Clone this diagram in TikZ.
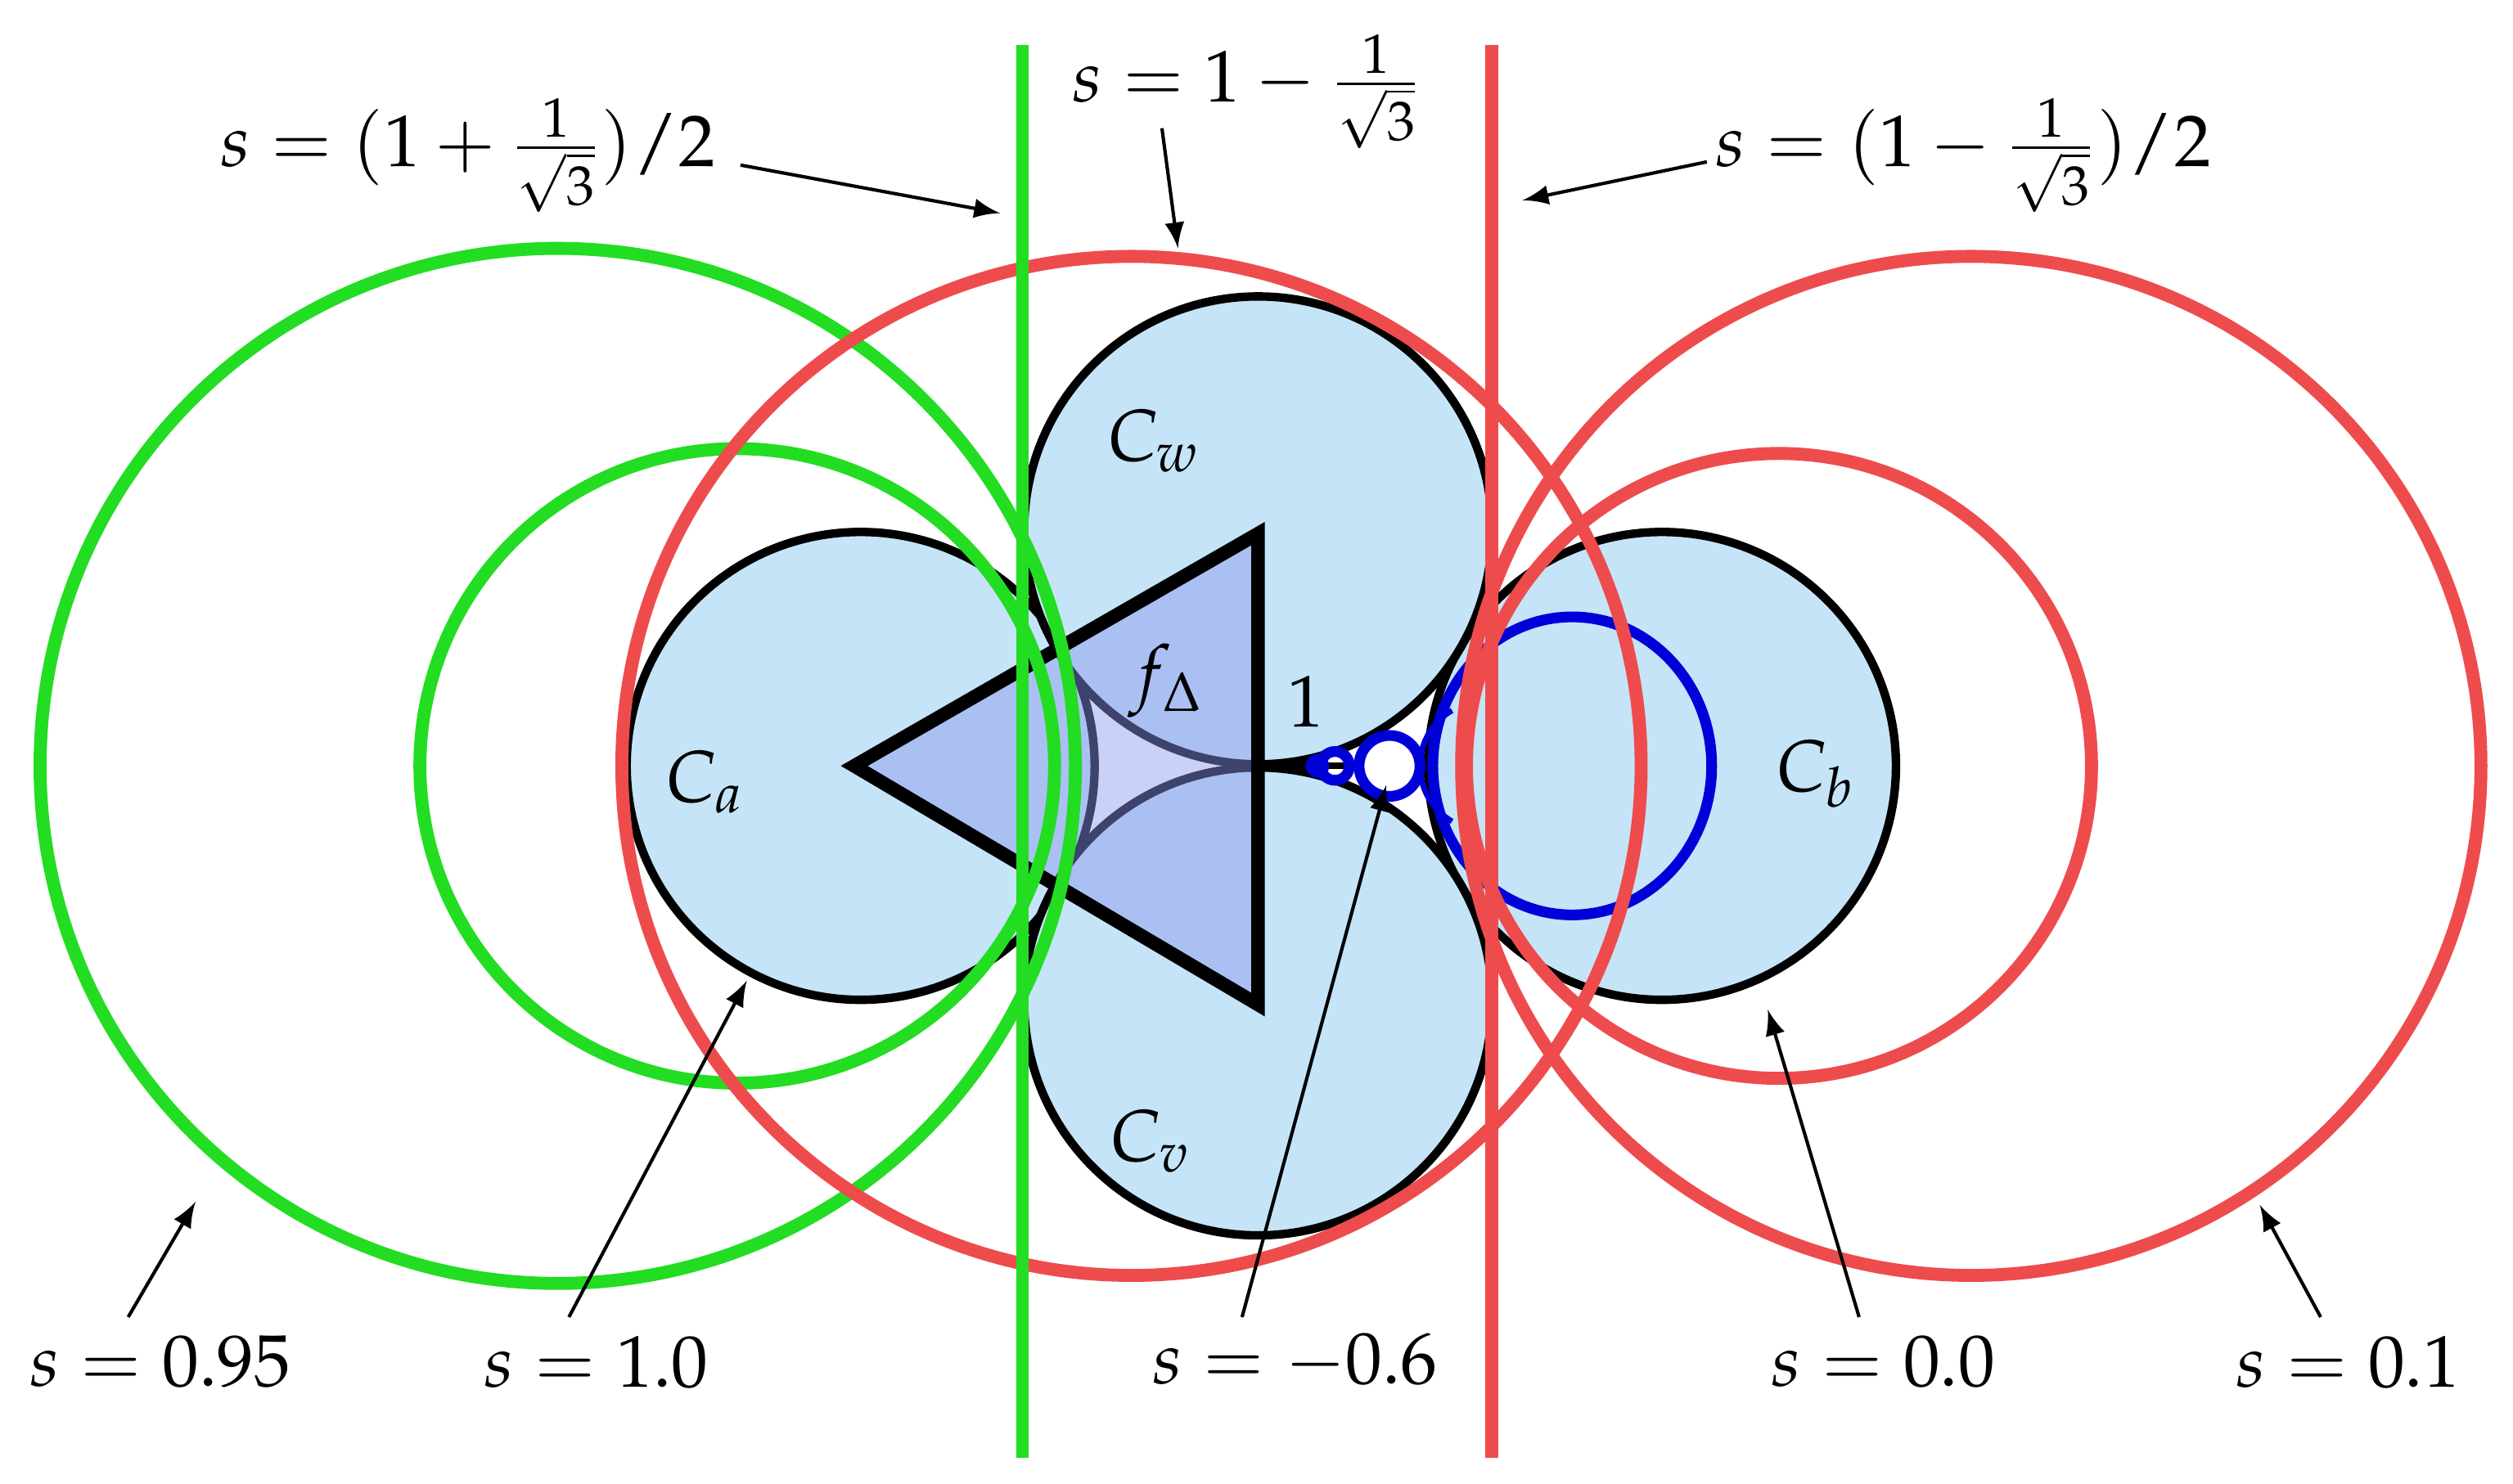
\documentclass[tikz,border=0pt]{standalone}
\usepackage{mathpazo}
\begin{document}
\begin{tikzpicture}[x=0.01cm,y=-0.01cm,
  disk/.style={fill=lbl,draw=black,line width=1.5pt},
  grn/.style={draw=grnc,line width=2.3pt},
  rd/.style={draw=redc,line width=2.3pt},
  bl/.style={draw=blue!85!black,line width=1.9pt},
  lab/.style={font=\fontsize{13}{15}\selectfont},
  arr/.style={-latex,line width=0.6pt}]
\definecolor{lbl}{HTML}{C5E4F7}
\definecolor{grnc}{HTML}{22DD22}
\definecolor{redc}{HTML}{EE4C4C}
\definecolor{tri}{HTML}{8A96F0}
\useasboundingbox (0,0) rectangle (1568,926);
% disks
\foreach \n/\x/\y in {ca/537/478,cb/1037/478,cw/785/331,cv/785/625}
  \draw[disk] (\x,\y) circle (146);
% triangle
\fill[tri,fill opacity=0.45] (533,478) -- (785,333) -- (785,627) -- cycle;
\draw[line width=2.4pt,line join=miter] (533,478) -- (785,333) -- (785,627) -- cycle;
\coordinate (cusp) at (785,478);
\coordinate (sm) at (848,478);
\draw[line width=1.2pt] (cusp) -- (sm);
% blue circles
\draw[bl] (981,478) ellipse (87 and 93);
\draw[bl,fill=white] (867,478) circle (19);
\draw[bl] (833,478) circle (9);
\draw[bl] (822,478) circle (4);
\draw[bl,line width=1pt] (886,478) arc (180:120:40) (886,478) arc (180:240:40);
% green
\draw[grn] (348,478) circle (323);
\draw[grn] (460,478) circle (198);
% red
\draw[rd] (706,478) circle (318);
\draw[rd] (1110,478) circle (195);
\draw[rd] (1230,478) circle (318);
% lines
\draw[draw=grnc,line width=2.3pt] (638,28) -- (638,910);
\draw[draw=redc,line width=2.3pt] (931,28) -- (931,910);
% disk labels
\node[lab] at (720,275) {$C_w$};
\node[lab] at (440,488) {$C_a$};
\node[lab] at (718,712) {$C_v$};
\node[lab] at (1133,483) {$C_b$};
\node[lab] at (728,425) {$f_\Delta$};
\node[lab] at (815,438) {$1$};
% top labels
\node[lab] (t1) at (292,97) {$s=(1+\frac{1}{\sqrt3})/2$};
\coordinate (t1e) at (624,133);
\draw[arr] (462,103) -- (t1e);
\node[lab] (t2) at (778,57) {$s=1-\frac{1}{\sqrt3}$};
\coordinate (t2e) at (735,155);
\draw[arr] (725,80) -- (t2e);
\node[lab] (t3) at (1225,97) {$s=(1-\frac{1}{\sqrt3})/2$};
\coordinate (t3e) at (950,125);
\draw[arr] (1065,101) -- (t3e);
% bottom labels
\foreach \n/\x/\t/\sx/\ex/\ey in {b1/100/0.95/80/122/750, b2/372/1.0/355/466/612, b3/808/-0.6/775/865/490, b4/1175/0.0/1160/1103/630, b5/1465/0.1/1448/1410/752}{
  \node[lab] (\n) at (\x,850) {$s=\t$};
  \coordinate (\n e) at (\ex,\ey);
  \draw[arr] (\sx,822) -- (\n e);
}
\end{tikzpicture}
\end{document}
